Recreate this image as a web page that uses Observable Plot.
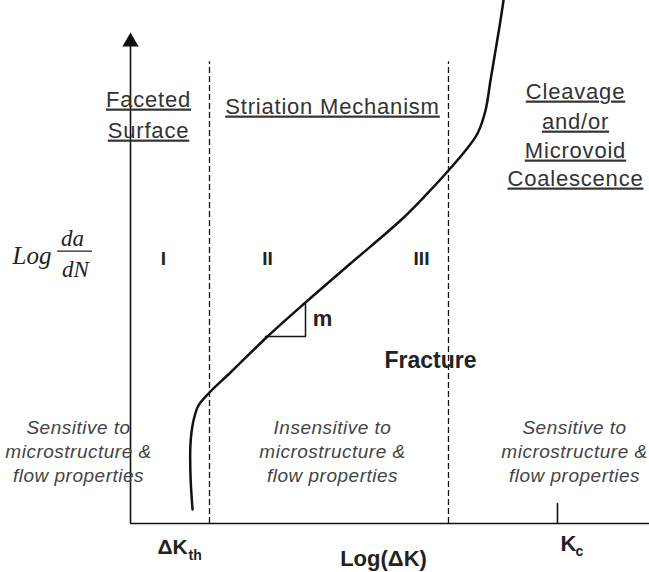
<!DOCTYPE html>
<html>
<head>
<meta charset="utf-8">
<script src="https://cdn.jsdelivr.net/npm/d3@7"></script>
<script src="https://cdn.jsdelivr.net/npm/@observablehq/plot@0.6"></script>
<style>
  html, body { margin: 0; padding: 0; background: #fff; }
</style>
</head>
<body>
<div id="chart"></div>
<script>
// Schematic crack-growth curve: x = Log(ΔK), y = Log(da/dN), arbitrary units 0–100
const curveX = [11.95, 11.56, 11.56, 12.14, 13.10, 15.22, 19.27, 26.40, 33.72, 42.39, 52.02, 56.84, 61.27, 64.55, 66.86, 68.40, 69.36, 70.33, 71.29, 71.87];
const curveY = [2.68, 9.18, 15.30, 19.69, 22.56, 25.05, 28.87, 35.76, 42.26, 49.71, 57.93, 62.72, 67.50, 71.32, 74.57, 78.97, 84.70, 90.44, 96.18, 100];

// Region boundaries (ΔKth boundary, Region II/III boundary) and Kc
const boundaries = [15.22, 61.27];
const boundaryTop = 88.3;
const kc = 82.27;

// Slope triangle legs
const slopeX = [26.0, 33.72, 33.72];
const slopeY = [35.76, 35.76, 42.07];

// Underlined mechanism headers
const headers = [
  {label: "Faceted", x: 3.47, y: 81.07},
  {label: "Surface", x: 3.47, y: 75.14},
  {label: "Striation Mechanism", x: 38.92, y: 79.73},
  {label: "Cleavage", x: 85.74, y: 82.60},
  {label: "and/or", x: 85.74, y: 76.86},
  {label: "Microvoid", x: 85.74, y: 71.32},
  {label: "Coalescence", x: 85.74, y: 65.97}
];

// Region numerals
const regions = [
  {label: "I", x: 6.36, y: 50.67},
  {label: "II", x: 26.40, y: 50.67},
  {label: "III", x: 56.07, y: 50.67}
];

// Sensitivity notes
const notes = [
  {label: "Sensitive to", x: -10.02, y: 18.36},
  {label: "microstructure &", x: -10.02, y: 13.77},
  {label: "flow properties", x: -10.02, y: 9.18},
  {label: "Insensitive to", x: 38.92, y: 18.36},
  {label: "microstructure &", x: 38.92, y: 13.77},
  {label: "flow properties", x: 38.92, y: 9.18},
  {label: "Sensitive to", x: 85.55, y: 18.36},
  {label: "microstructure &", x: 85.55, y: 13.77},
  {label: "flow properties", x: 85.55, y: 9.18}
];

const curve = curveX.map((x, i) => ({x, y: curveY[i]}));
const slope = slopeX.map((x, i) => ({x, y: slopeY[i]}));

const chart = Plot.plot({
  width: 649,
  height: 572,
  marginLeft: 130,
  marginRight: 0,
  marginTop: 0,
  marginBottom: 49,
  x: {domain: [0, 100], axis: null},
  y: {domain: [0, 100], axis: null},
  style: {fontFamily: "'Liberation Sans', Arial, sans-serif", background: "#fff", overflow: "visible"},
  marks: [
    // axes
    Plot.ruleY([0], {x1: 0, x2: 100, stroke: "#111", strokeWidth: 1.6}),
    Plot.ruleX([0], {y1: 0, y2: 91.4, stroke: "#111", strokeWidth: 1.6}),
    Plot.dot([{x: 0, y: 92.1}], {x: "x", y: "y", symbol: "triangle", r: 6, fill: "#111", stroke: "none"}),
    Plot.ruleX([kc], {y1: 0, y2: 3.82, stroke: "#111", strokeWidth: 1.6}),
    // region boundaries
    Plot.ruleX(boundaries, {y1: 0, y2: boundaryTop, stroke: "#111", strokeWidth: 1.3, strokeDasharray: "6,3"}),
    // slope triangle
    Plot.line(slope, {x: "x", y: "y", stroke: "#111", strokeWidth: 1.5}),
    // curve
    Plot.line(curve, {x: "x", y: "y", curve: "catmull-rom", stroke: "#111", strokeWidth: 2.5}),
    // headers
    Plot.text(headers, {x: "x", y: "y", text: "label", fontSize: 22, fill: "#333"}),
    // numerals
    Plot.text(regions, {x: "x", y: "y", text: "label", fontSize: 19, fontWeight: "bold", fill: "#222"}),
    Plot.text([{label: "m", x: 37.0, y: 39.2}], {x: "x", y: "y", text: "label", fontSize: 22, fontWeight: "bold", fill: "#222"}),
    Plot.text([{label: "Fracture", x: 57.8, y: 31.05}], {x: "x", y: "y", text: "label", fontSize: 23, fontWeight: "bold", fill: "#222"}),
    // notes
    Plot.text(notes, {x: "x", y: "y", text: "label", fontSize: 19, fontStyle: "italic", fill: "#444"}),
    // x-axis labels
    Plot.text([{label: "ΔK", x: 5.2, y: -4.45}], {x: "x", y: "y", text: "label", textAnchor: "start", fontSize: 21, fontWeight: "bold", fill: "#222"}),
    Plot.text([{label: "th", x: 11.18, y: -6.21}], {x: "x", y: "y", text: "label", textAnchor: "start", fontSize: 14, fontWeight: "bold", fill: "#222"}),
    Plot.text([{label: "K", x: 82.85, y: -3.82}], {x: "x", y: "y", text: "label", textAnchor: "start", fontSize: 22, fontWeight: "bold", fill: "#222"}),
    Plot.text([{label: "c", x: 85.74, y: -5.45}], {x: "x", y: "y", text: "label", textAnchor: "start", fontSize: 14, fontWeight: "bold", fill: "#222"}),
    Plot.text([{label: "Log(ΔK)", x: 48.75, y: -6.69}], {x: "x", y: "y", text: "label", fontSize: 22, fontWeight: "bold", fill: "#222"}),
    // y-axis label: Log da/dN
    Plot.text([{label: "Log", x: -22.74, y: 51.24}], {x: "x", y: "y", text: "label", textAnchor: "start", fontSize: 25, fontStyle: "italic", fontFamily: "'Liberation Serif', 'Times New Roman', serif", fill: "#222"}),
    Plot.text([{label: "da", x: -11.18, y: 54.38}], {x: "x", y: "y", text: "label", fontSize: 23, fontStyle: "italic", fontFamily: "'Liberation Serif', 'Times New Roman', serif", fill: "#222"}),
    Plot.text([{label: "dN", x: -10.6, y: 48.45}], {x: "x", y: "y", text: "label", fontSize: 23, fontStyle: "italic", fontFamily: "'Liberation Serif', 'Times New Roman', serif", fill: "#222"}),
    Plot.ruleY([52.07], {x1: -14.07, x2: -7.32, stroke: "#222", strokeWidth: 1.3})
  ]
});
document.getElementById("chart").appendChild(chart);

// Styling: underline the mechanism headers, widen the spacing of headers and notes
const headerSet = new Set(headers.map(d => d.label));
const noteSet = new Set(notes.map(d => d.label));
d3.select(chart).selectAll("text")
  .filter(function() { return headerSet.has(this.textContent); })
  .style("letter-spacing", "0.8px")
  .style("text-decoration", "underline")
  .style("text-underline-offset", "5px")
  .style("text-decoration-thickness", "1.5px");
d3.select(chart).selectAll("text")
  .filter(function() { return noteSet.has(this.textContent); })
  .style("letter-spacing", "0.5px");
</script>
</body>
</html>
